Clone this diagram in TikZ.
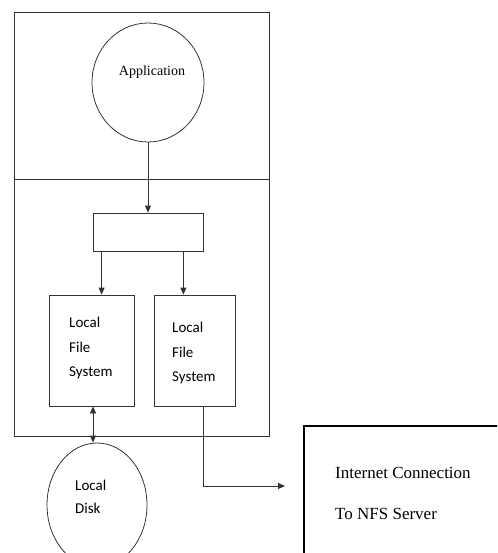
\documentclass[tikz,border=0pt]{standalone}
\usepackage{fontspec}
\setmainfont{Liberation Serif}
\newfontfamily\calfont{Carlito}
\usetikzlibrary{arrows.meta,shapes.geometric}

\tikzset{
  line/.style={draw=black!80, line width=0.8pt},
  arr/.style={line, -{Triangle[length=7pt,width=6pt]}},
  darr/.style={line, {Triangle[length=7pt,width=6pt]}-{Triangle[length=7pt,width=6pt]}},
  box/.style={line, rectangle, inner sep=0pt},
  blob/.style={line, ellipse, inner sep=0pt},
  serif/.style={font=\fontsize{14}{16}\selectfont, inner sep=0pt},
  bigserif/.style={font=\fontsize{17}{19}\selectfont, inner sep=0pt},
  calib/.style={font=\calfont\fontsize{15}{17}\selectfont, inner sep=0pt}
}

\begin{document}
\begin{tikzpicture}[x=1pt, y=-1pt]
	\useasboundingbox (0,0) rectangle (497,553);
	\clip (0,0) rectangle (497,553);

	% Client machine frame
	\draw[line] (14,12) rectangle (269,179);
	\draw[line] (14,179) rectangle (269,436);

	% Application and the switch box
	\node[blob, minimum width=112pt, minimum height=119pt] (app) at (148,82.5) {};
	\node[serif, anchor=base] (applbl) at (152,76) {Application};
	\node[box, minimum width=110pt, minimum height=38pt] (vfs) at (148,232) {};

	% The two file systems
	\node[box, minimum width=85pt, minimum height=111pt] (lfsA) at (91.5,350.5) {};
	\node[box, minimum width=81pt, minimum height=111pt] (lfsB) at (194.5,350.5) {};

	\node[calib, anchor=base west] (lfsA1) at (69,327) {Local};
	\node[calib, anchor=base west] (lfsA2) at (69,352) {File};
	\node[calib, anchor=base west] (lfsA3) at (69,376) {System};

	\node[calib, anchor=base west] (lfsB1) at (172,332) {Local};
	\node[calib, anchor=base west] (lfsB2) at (172,357) {File};
	\node[calib, anchor=base west] (lfsB3) at (172,381) {System};

	% Local disk
	\node[blob, minimum width=100pt, minimum height=124pt] (disk) at (97,505) {};
	\node[calib, anchor=base west] (disk1) at (75,490) {Local};
	\node[calib, anchor=base west] (disk2) at (75,513) {Disk};

	% NFS server side
	\node[rectangle, draw=black, line width=1.5pt, anchor=north west,
		minimum width=220pt, minimum height=150pt] (nfs) at (303,425) {};
	\node[bigserif, anchor=base west] (nfs1) at (335,478) {Internet Connection};
	\node[bigserif, anchor=base west] (nfs2) at (335,519) {To NFS Server};
	\coordinate (netin) at (285,486);

	% Connectors
	\draw[arr] (app.south) -- (vfs.north);
	\draw[arr] ([xshift=9pt]vfs.south west) -- ([xshift=9pt]vfs.south west |- lfsA.north);
	\draw[arr] ([xshift=-20pt]vfs.south east) -- ([xshift=-20pt]vfs.south east |- lfsB.north);
	\draw[darr] ([xshift=1.5pt]lfsA.south) -- ([xshift=1.5pt]lfsA.south |- disk.north);
	\draw[arr] ([xshift=8.5pt]lfsB.south) |- (netin);
\end{tikzpicture}
\end{document}
